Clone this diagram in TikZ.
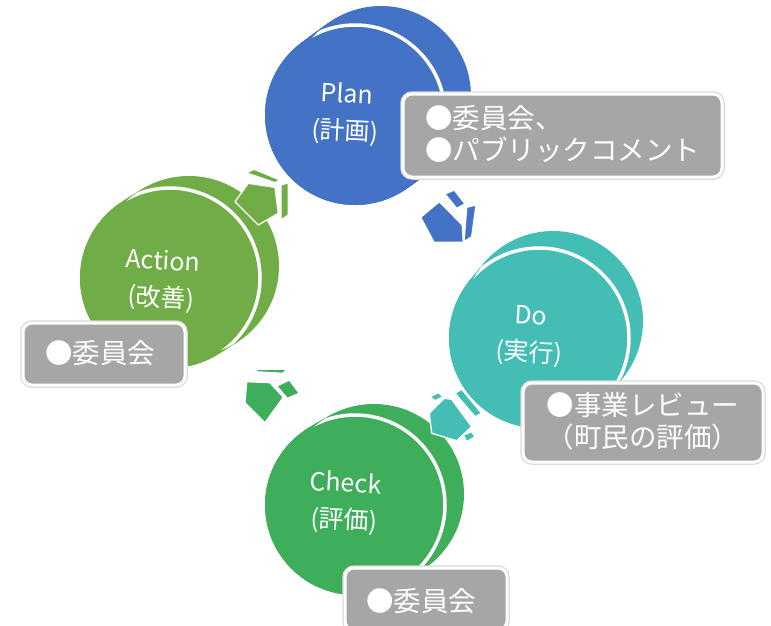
\documentclass[tikz,border=0pt]{standalone}
\usepackage{fontspec}
\setmainfont{Noto Sans CJK JP}
\definecolor{planc}{HTML}{4472C4}
\definecolor{doc}{HTML}{44BDB5}
\definecolor{checkc}{HTML}{3EAE5B}
\definecolor{actc}{HTML}{70AD47}
\definecolor{labc}{HTML}{A6A6A6}
\tikzset{
  disctext/.style={text=white, font=\fontsize{25}{37}\selectfont, align=center, rotate=-3, inner sep=0pt},
  labbox/.style={rounded corners=9pt, fill=labc, draw=white, line width=3pt, preaction={draw=black!15, line width=5.5pt}, inner sep=0pt},
  labtext/.style={text=white, font=\fontsize{27.5}{32}\selectfont, inner sep=0pt},
  arrface/.style={draw=white, line width=1.3pt, line join=round},
}
\newcommand\pdcadisc[6]{%
  \foreach \i in {0,...,20} {\fill[#6] ({#2+\i/20*#4},{#3+\i/20*#5}) circle[radius=90pt];}
  \fill[#6] (#2,#3) circle[radius=90pt];
  \begin{scope}
    \clip ({#2+#4},{#3+#5}) circle[radius=90pt];
    \draw[white, line width=3.5pt] (#2,#3) circle[radius=90pt];
  \end{scope}
  \coordinate (#1) at (#2,#3);
}
\begin{document}
\begin{tikzpicture}[x=1pt,y=-1pt]
\useasboundingbox (0,0) rectangle (771,625);
\clip (0,0) rectangle (771,625);
% discs
\pdcadisc{plan}{355}{115}{26}{-19}{planc}
\pdcadisc{do}{539}{338}{14}{-17}{doc}
\pdcadisc{check}{355}{505}{19}{-11}{checkc}
\pdcadisc{act}{170}{278}{19}{-12}{actc}
% disc texts
\node[disctext] (tplan) at (346,114) {Plan\\(計画)};
\node[disctext] (tdo) at (530,336) {Do\\(実行)};
\node[disctext] (tcheck) at (345,503) {Check\\(評価)};
\node[disctext] (tact) at (162,281) {Action\\(改善)};
% arrow Plan -> Do
\fill[planc, arrface] (420.7,217.3)--(439.3,201.7)--(462.3,225)--(463.3,242.3)--(434,242.3)--cycle;
\fill[planc, arrface] (445,194)--(454.3,190)--(465,204)--(456.7,208.3)--cycle;
\fill[planc, arrface] (466.7,207.3)--(476,205)--(471.7,236.7)--(464,241.7)--cycle;
% arrow Do -> Check
\fill[doc, arrface] (429.3,413.3)--(444,398.3)--(451.7,399.3)--(471.7,426.7)--(456.7,440.7)--(431.7,433.3)--cycle;
\fill[doc, arrface] (430,396.7)--(438.3,392.7)--(443.3,396.7)--(435,400.7)--cycle;
\fill[doc, arrface] (455,393.3)--(461.7,389.3)--(481.7,413.3)--(475,416.7)--cycle;
\fill[doc, arrface] (463.3,435)--(471.7,431.7)--(475,436.7)--(466.7,441.7)--cycle;
% arrow Check -> Action
\fill[checkc, arrface] (246.7,381.7)--(270,382.7)--(283.3,397.3)--(265,422.7)--(245,402.7)--cycle;
\fill[checkc, arrface] (255,371.7)--(257,369.3)--(287,369.3)--(283,373.3)--cycle;
\fill[checkc, arrface] (276.7,386)--(289.3,380)--(299.3,393.3)--(287.3,398.3)--cycle;
% arrow Action -> Plan
\fill[actc, arrface] (248.3,183.3)--(235,201.7)--(258.3,225)--(278.3,213.3)--(275,187.3)--cycle;
\fill[actc, arrface] (246,172.7)--(254.3,169.3)--(280,180)--(275,182.7)--cycle;
\fill[actc, arrface] (281,185)--(288.3,182.7)--(288.3,215)--(281,220)--cycle;
% labels
\node[labbox, minimum width=319pt, minimum height=83pt] (lplan) at (562.5,135.5) {};
\node[labtext, anchor=west, align=left] (lplantext) at (425,134) {●委員会、\\●パブリックコメント};
\node[labbox, minimum width=240pt, minimum height=79pt] (ldo) at (643,422.5) {};
\node[labtext, align=center] (ldotext) at (643,421) {●事業レビュー\\（町民の評価）};
\node[labbox, minimum width=162pt, minimum height=62pt] (lact) at (104,354) {};
\node[labtext] (lacttext) at (100,353) {●委員会};
\node[labbox, minimum width=162pt, minimum height=62pt] (lcheck) at (426,599) {};
\node[labtext] (lchecktext) at (421,601) {●委員会};
\end{tikzpicture}
\end{document}
